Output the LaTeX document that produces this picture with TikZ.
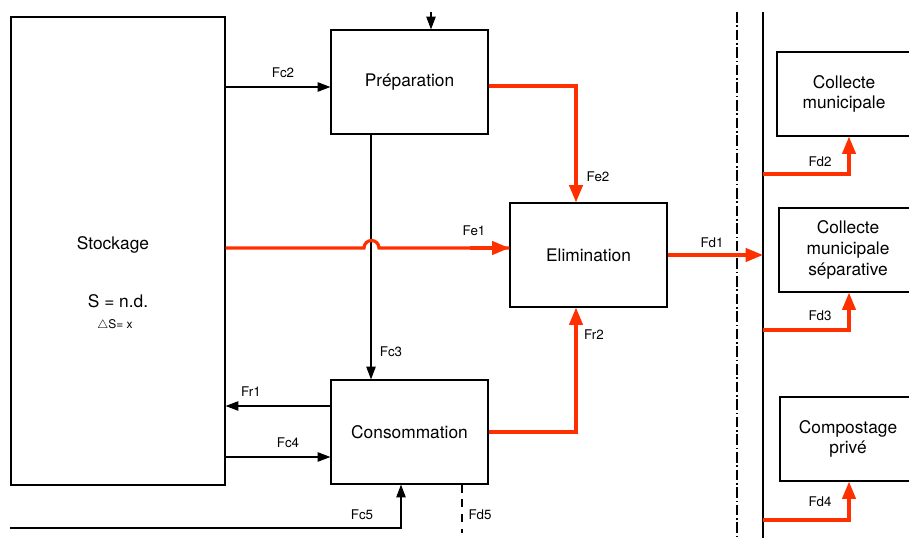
\documentclass[tikz,border=0pt]{standalone}
\usepackage{fontspec}
\setmainfont{TeX Gyre Heros}
\usetikzlibrary{arrows.meta}
\definecolor{myred}{RGB}{255,48,0}
\begin{document}
\begin{tikzpicture}[x=0.75pt,y=-0.75pt,
  box/.style={draw=black, line width=0.9pt, rectangle, inner sep=0pt, align=center, font=\fontsize{13}{15.5}\selectfont},
  blk/.style={draw=black, line width=0.9pt, -{Triangle[length=9.5pt,width=7pt]}},
  redarr/.style={draw=myred, line width=2.4pt, -{Triangle[length=13pt,width=10pt]}},
  redline/.style={draw=myred, line width=2.4pt},
  lbl/.style={font=\fontsize{10}{12}\selectfont, inner sep=1pt}]
\clip (0,0) rectangle (909,538);
\fill[white] (0,0) rectangle (909,538);

% boxes
\node[box, minimum width=160.5pt, minimum height=351pt] (stock) at (118,251) {};
\node[font=\fontsize{13}{15.5}\selectfont] (stocktxt) at (113,245) {Stockage};
\node[font=\fontsize{13}{15.5}\selectfont] (stocks) at (118,301) {S = n.d.};
\node[font=\fontsize{9}{11}\selectfont] (stockds) at (115,325) {$\triangle$S= x};

\node[box, minimum width=117.75pt, minimum height=78pt] (prep) at (409.5,82) {Préparation};
\node[box, minimum width=117.75pt, minimum height=78pt] (elim) at (588.5,255) {Elimination};
\node[box, minimum width=117.75pt, minimum height=78pt] (conso) at (409.5,432) {Consommation};

\node[box, minimum width=100.5pt, minimum height=63pt] (b1) at (844,94) {Collecte\\municipale};
\node[box, minimum width=103.5pt, minimum height=63pt] (b2) at (848,250) {Collecte\\municipale\\séparative};
\node[box, minimum width=102pt, minimum height=63pt] (b3) at (848,439) {Compostage\\privé};

% separators
\coordinate (dtop) at (737,12);
\coordinate (dbot) at (737,538);
\coordinate (ltop) at (763,12);
\coordinate (lbot) at (763,538);
\draw[line width=0.8pt, dash pattern=on 8pt off 2pt on 1.2pt off 2pt] (dtop) -- (dbot);
\draw[line width=0.8pt] (ltop) -- (lbot);

% top input to preparation
\coordinate (topin) at (431,12);
\draw[blk] (topin) -- (topin |- prep.north);

% Fc2
\draw[blk] (stock.east |- 0,87) -- (prep.west |- 0,87);
\node[lbl] (fc2) at (283,73) {Fc2};

% Fc3
\draw[blk] (prep.south -| 371,0) -- (conso.north -| 371,0);
\node[lbl] (fc3) at (391,352) {Fc3};

% Fr1
\draw[blk] (conso.west |- 0,406) -- (stock.east |- 0,406);
\node[lbl] (fr1) at (251,392) {Fr1};

% Fc4
\draw[blk] (stock.east |- 0,457) -- (conso.west |- 0,457);
\node[lbl] (fc4) at (288,443) {Fc4};

% Fc5
\coordinate (fc5start) at (10,528);
\draw[blk] (fc5start) -| (conso.south -| 401,0);
\node[lbl] (fc5) at (362,515) {Fc5};

% Fd5
\coordinate (fd5end) at (462,533);
\draw[line width=0.8pt, dash pattern=on 6pt off 5pt] (conso.south -| fd5end) -- (fd5end);
\node[lbl] (fd5) at (480,515) {Fd5};

% Fe1 with bump over Fc3
\draw[redline] (stock.east |- 0,248) -- (364,248) arc[start angle=180, end angle=360, radius=7.5] -- (elim.west |- 0,248);
\draw[redarr] (470,248) -- (elim.west |- 0,248);
\node[lbl] (fe1) at (474,231) {Fe1};

% Fe2
\draw[redarr] (prep.east |- 0,86) -| (elim.north -| 576,0);
\node[lbl] (fe2) at (598,177) {Fe2};

% Fr2
\draw[redarr] (conso.east |- 0,432) -| (elim.south -| 576,0);
\node[lbl] (fr2) at (594,335) {Fr2};

% Fd1
\draw[redarr] (elim.east) -- (ltop |- elim.east);
\node[lbl] (fd1) at (712,243) {Fd1};

% Fd2, Fd3, Fd4
\draw[redarr] (ltop |- 0,174) -| (b1.south -| 849,0);
\node[lbl] (fd2) at (820,162) {Fd2};
\draw[redarr] (ltop |- 0,330) -| (b2.south -| 849,0);
\node[lbl] (fd3) at (820,316) {Fd3};
\draw[redarr] (ltop |- 0,520) -| (b3.south -| 849,0);
\node[lbl] (fd4) at (820,502) {Fd4};
\end{tikzpicture}
\end{document}
